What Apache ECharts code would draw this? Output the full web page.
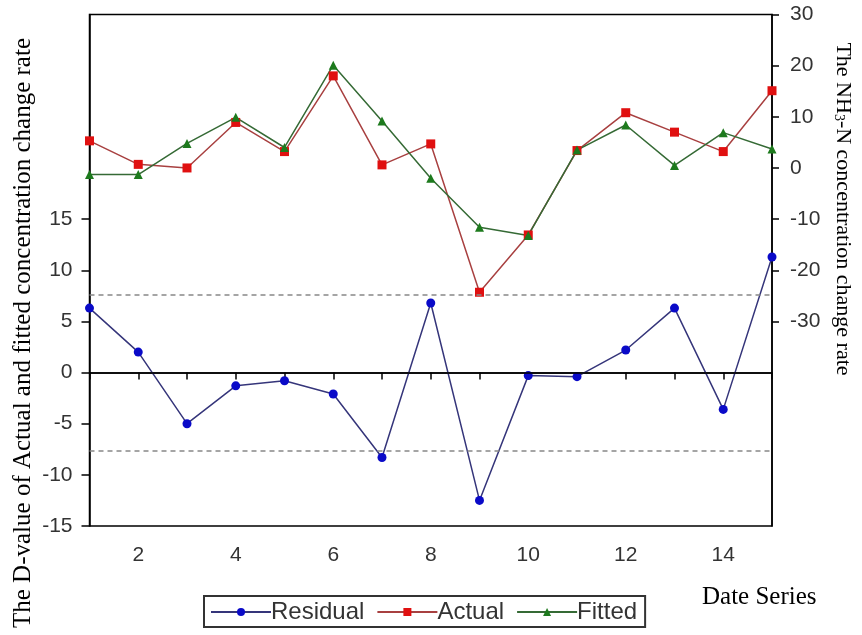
<!DOCTYPE html>
<html>
<head>
<meta charset="utf-8">
<script src="https://cdn.jsdelivr.net/npm/echarts@6/dist/echarts.min.js"></script>
<style>
html,body{margin:0;padding:0;background:#fff;}
#chart{width:862px;height:635px;}
</style>
</head>
<body>
<div id="chart"></div>
<script>
// ---- data ----
var dates = [1,2,3,4,5,6,7,8,9,10,11,12,13,14,15];
var residual = [6.3, 2.0, -5.0, -1.3, -0.8, -2.1, -8.3, 6.8, -12.5, -0.3, -0.4, 2.2, 6.3, -3.6, 11.3];
var actual = [5.3, 0.7, 0.0, 8.9, 3.2, 18.0, 0.6, 4.7, -24.3, -13.1, 3.4, 10.8, 7.0, 3.2, 15.1];
var fitted = [-1.3, -1.3, 4.8, 9.9, 4.0, 20.1, 9.2, -2.0, -11.6, -13.2, 3.5, 8.4, 0.5, 6.9, 3.7];
var bandUpper = 7.65;
var bandLower = -7.65;
var xTickLabels = [2,4,6,8,10,12,14];
var leftTickLabels = [-15,-10,-5,0,5,10,15];
var rightTickLabels = [-30,-20,-10,0,10,20,30];

function pairs(xs, ys){ return xs.map(function(x,i){ return [x, ys[i]]; }); }

var sans = '"Liberation Sans", Arial, sans-serif';
var serif = '"Liberation Serif", "Times New Roman", "DejaVu Serif", serif';

var chart = echarts.init(document.getElementById('chart'), null, {renderer:'canvas'});
var option = {
  backgroundColor: '#ffffff',
  animation: false,
  grid: {left: 89.5, right: 90, top: 14.5, bottom: 109, show: true, borderColor: '#000', borderWidth: 1.5, backgroundColor: '#fff'},
  xAxis: {
    type: 'value', min: 1, max: 15, interval: 1,
    splitLine: {show: false},
    axisLine: {lineStyle: {color: '#000', width: 1.5}},
    axisTick: {customValues: dates, length: 7, lineStyle: {color: '#000', width: 1.5}},
    axisLabel: {customValues: xTickLabels, color: '#333', fontSize: 21, fontFamily: sans, margin: 19}
  },
  yAxis: [{
    type: 'value', min: -15, max: 35, position: 'left',
    splitLine: {show: false},
    axisLine: {show: true, lineStyle: {color: '#000', width: 1.5}},
    axisTick: {customValues: leftTickLabels, length: 8, lineStyle: {color: '#000', width: 1.5}},
    axisLabel: {customValues: leftTickLabels, color: '#333', fontSize: 21, fontFamily: sans, margin: 17}
  }, {
    type: 'value', min: -70, max: 30, position: 'right',
    splitLine: {show: false},
    axisLine: {show: true, lineStyle: {color: '#000', width: 1.5}},
    axisTick: {customValues: rightTickLabels, length: 7, lineStyle: {color: '#000', width: 1.5}},
    axisLabel: {customValues: rightTickLabels, color: '#333', fontSize: 21, fontFamily: sans, margin: 18}
  }],
  legend: {
    left: 204, top: 596,
    padding: [4, 8, 3, 6],
    borderColor: '#333', borderWidth: 2,
    itemWidth: 60, itemHeight: 10, itemGap: 12,
    textStyle: {fontSize: 24, fontFamily: sans, color: '#333', padding: [0,0,0,-5]},
    data: ['Residual', 'Actual', 'Fitted']
  },
  graphic: [{
    type: 'text', rotation: Math.PI/2,
    x: 23, y: 333,
    style: {text: 'The D-value of Actual and fitted concentration change rate', font: '25px ' + serif, fill: '#000', align: 'center', verticalAlign: 'middle'}
  }, {
    type: 'text', rotation: -Math.PI/2,
    x: 843, y: 209,
    style: {
      text: '{a|The NH}{s|3}{a|-N concentration change rate}',
      align: 'center', verticalAlign: 'middle', fill: '#000',
      rich: {a: {font: '22px ' + serif, fill: '#000'}, s: {font: '14px ' + serif, fill: '#000', verticalAlign: 'bottom'}}
    }
  }, {
    type: 'text', x: 702, y: 585,
    style: {text: 'Date Series', font: '25px ' + serif, fill: '#000'}
  }],
  series: [{
    name: 'Residual', type: 'line', yAxisIndex: 0,
    data: pairs(dates, residual),
    symbol: 'circle', symbolSize: 9,
    itemStyle: {color: '#0a0ac8'},
    lineStyle: {color: '#35357a', width: 1.5},
    markLine: {
      silent: true, symbol: ['none','none'], label: {show: false},
      data: [
        {yAxis: 0, lineStyle: {color: '#000', type: 'solid', width: 1.5}},
        {yAxis: bandUpper, lineStyle: {color: '#888', type: [5,4], width: 1.5}},
        {yAxis: bandLower, lineStyle: {color: '#888', type: [5,4], width: 1.5}}
      ]
    },
    z: 3
  }, {
    name: 'Actual', type: 'line', yAxisIndex: 1,
    data: pairs(dates, actual),
    symbol: 'rect', symbolSize: 9,
    itemStyle: {color: '#e01010'},
    lineStyle: {color: '#a84040', width: 1.5},
    z: 2
  }, {
    name: 'Fitted', type: 'line', yAxisIndex: 1,
    data: pairs(dates, fitted),
    symbol: 'triangle', symbolSize: 9,
    itemStyle: {color: '#1d7a1d'},
    lineStyle: {color: '#356a35', width: 1.5},
    z: 2
  }]
};
chart.setOption(option);
</script>
</body>
</html>
